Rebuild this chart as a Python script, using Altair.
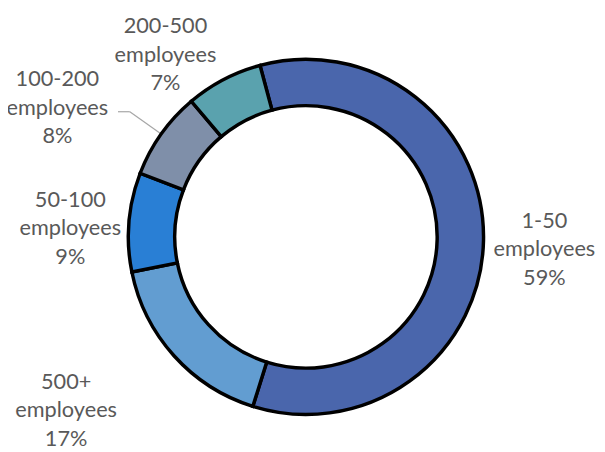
import math
import altair as alt
import pandas as pd

# ---- data ----
categories = ["1-50 employees", "500+ employees", "50-100 employees",
              "100-200 employees", "200-500 employees"]
shares = [59, 17, 9, 8, 7]
colors = ["#4A66AC", "#629DD1", "#297FD5", "#7F8FA9", "#5AA2AE"]

# ---- label placement (Excel best-fit layout tweaks) ----
label_nudge = [0.5, 1.7, -0.75, -2.2, -2.8]      # in share units along the ring
label_radius = [242, 300, 239, 284, 233]          # px from the centre

W, H = 572, 414
OUTER, INNER = 180, 133
START = -15 * math.pi / 180
LINE_H = 29

df = pd.DataFrame({"category": categories, "share": shares,
                   "order": list(range(len(categories)))})

theta_scale = alt.Scale(domain=[0, 100], range=[START, START + 2 * math.pi])

arcs = alt.Chart(df).mark_arc(
    outerRadius=OUTER, innerRadius=INNER, stroke="black", strokeWidth=3.5
).encode(
    theta=alt.Theta("share:Q", stack=True, scale=theta_scale),
    color=alt.Color("category:N",
                    scale=alt.Scale(domain=categories, range=colors),
                    legend=None),
    order=alt.Order("order:Q"),
)

base = alt.Chart(df).transform_window(
    cum="sum(share)", sort=[alt.SortField("order")]
).transform_calculate(
    mid="datum.cum - datum.share / 2"
)

nudge_js = "[" + ",".join(str(v) for v in label_nudge) + "]"
rad_js = "[" + ",".join(str(v) for v in label_radius) + "]"

labels = base.transform_calculate(
    lt=f"datum.mid + {nudge_js}[datum.order]",
    lr=f"{rad_js}[datum.order]",
    lbl="replace(datum.category, ' ', '\\n') + '\\n' + datum.share + '%'",
).mark_text(
    font="Lato", fontSize=22, color="#595959", lineBreak="\n",
    lineHeight=LINE_H, align="center", baseline="middle", dy=-LINE_H,
).encode(
    theta=alt.Theta("lt:Q", stack=False, scale=theta_scale),
    radius=alt.Radius("lr:Q", scale=None),
    text="lbl:N",
)

ang = f"({START} + 2 * PI * datum.mid / 100)"
leader_base = base.transform_filter("datum.order == 3").transform_calculate(
    xa=f"{W/2} + {OUTER} * sin({ang})",
    ya=f"{H/2} - {OUTER} * cos({ang})",
    xb=f"{W/2} + 219 * sin({ang})",
    yb=f"{H/2} - 219 * cos({ang})",
).transform_calculate(xc="datum.xb - 12")

leader1 = leader_base.mark_rule(color="#A6A6A6", strokeWidth=1.2).encode(
    x=alt.X("xa:Q", scale=None), y=alt.Y("ya:Q", scale=None),
    x2="xb:Q", y2="yb:Q",
)
leader2 = leader_base.mark_rule(color="#A6A6A6", strokeWidth=1.2).encode(
    x=alt.X("xb:Q", scale=None), y=alt.Y("yb:Q", scale=None),
    x2="xc:Q", y2="yb:Q",
)

chart = alt.layer(leader1, leader2, arcs, labels).resolve_scale(
    theta="independent"
).properties(
    width=W, height=H,
    padding={"left": 16, "top": 22, "right": 9, "bottom": 6},
    autosize=alt.AutoSizeParams(type="none"),
    background="white",
).configure_view(stroke=None)

chart.save("out.html", embed_options={"renderer": "svg", "actions": False})
